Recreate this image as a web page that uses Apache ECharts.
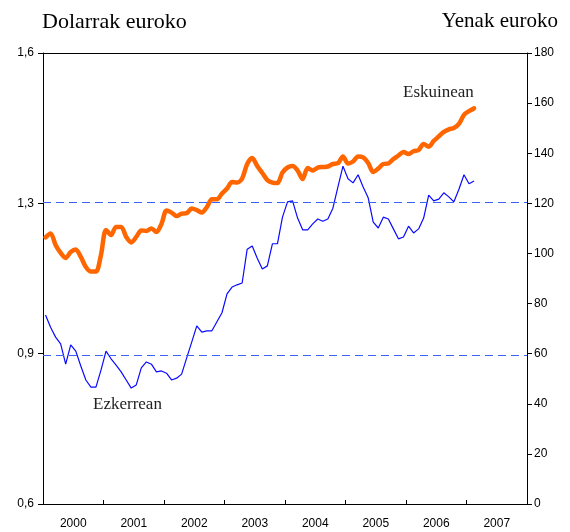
<!DOCTYPE html>
<html><head><meta charset="utf-8">
<script src="https://cdn.jsdelivr.net/npm/echarts@6/dist/echarts.min.js"></script>
<style>html,body{margin:0;padding:0;background:#fff}#c{width:570px;height:532px}</style>
</head><body><div id="c"></div>
<script>
// Year categories (tick labels on the x axis)
const years = ['2000','2001','2002','2003','2004','2005','2006','2007'];
// Dollars per euro, monthly from Jan 2000 (left axis)
const usdPerEuro = [1.019,0.992,0.970,0.955,0.910,0.953,0.939,0.906,0.875,0.859,0.859,0.897,
  0.939,0.922,0.908,0.893,0.875,0.857,0.864,0.902,0.915,0.910,0.893,0.895,
  0.890,0.875,0.879,0.888,0.924,0.959,0.995,0.981,0.984,0.984,1.004,1.024,
  1.066,1.081,1.086,1.090,1.165,1.172,1.145,1.121,1.128,1.177,1.177,1.236,
  1.270,1.272,1.234,1.208,1.208,1.221,1.232,1.227,1.232,1.256,1.303,1.349,
  1.321,1.312,1.330,1.303,1.279,1.225,1.212,1.236,1.232,1.210,1.188,1.192,
  1.216,1.201,1.210,1.234,1.285,1.272,1.276,1.290,1.281,1.270,1.298,1.330,
  1.310,1.316];
// Yen per euro, monthly from Jan 2000 (right axis)
const yenPerEuro = [106.4,108.0,103.4,100.2,98.2,100.6,101.6,98.6,94.6,92.8,92.8,99.4,
  109.4,107.4,110.6,110.6,106.6,104.4,106.6,109.2,109.0,110.0,108.6,111.8,
  117.1,116.3,114.9,115.9,116.1,117.9,117.3,116.3,118.5,121.6,121.6,123.9,
  125.9,128.5,128.3,129.9,135.7,138.1,134.9,132.1,129.3,128.3,128.1,132.3,
  134.3,134.9,133.1,129.7,134.1,133.1,134.3,134.5,134.7,135.7,136.0,138.7,
  135.9,136.7,138.7,138.3,136.1,132.5,133.9,135.7,135.9,137.7,139.1,140.5,
  139.7,140.8,141.3,143.7,142.6,144.9,146.7,148.5,149.5,150.1,151.7,155.3,
  156.8,157.9];
const leftRange = [0.6, 1.6];
const leftSteps = 3;
const rightRange = [0, 180];
const rightStep = 20;
const leftTitle = 'Dolarrak euroko';
const rightTitle = 'Yenak euroko';
const labelLeft = 'Ezkerrean';
const labelRight = 'Eskuinean';

const months = [];
years.forEach(y => { for (let m = 1; m <= 12; m++) months.push(y + '-' + (m < 10 ? '0' + m : m)); });
const leftInterval = (leftRange[1] - leftRange[0]) / leftSteps;
const gridLines = [];
for (let k = 1; k < leftSteps; k++) gridLines.push({yAxis: leftRange[0] + k * leftInterval});

const chart = echarts.init(document.getElementById('c'), null, {renderer: 'canvas'});
const sans = '"Liberation Sans", Arial, sans-serif';
const serif = '"Liberation Serif", "Times New Roman", serif';
const black = '#000';
chart.setOption({
  animation: false,
  backgroundColor: '#fff',
  title: [
    {text: leftTitle, left: 42, top: 11, padding: 0, textStyle: {fontFamily: serif, fontSize: 22, fontWeight: 'normal', color: black}},
    {text: rightTitle, right: 12, top: 11, padding: 0, textStyle: {fontFamily: serif, fontSize: 21, fontWeight: 'normal', color: black}}
  ],
  grid: {left: 43, right: 43, top: 53, bottom: 28, containLabel: false},
  xAxis: [
    {type: 'category', data: months, boundaryGap: true, position: 'bottom',
      axisLine: {show: true, lineStyle: {color: black, width: 1}},
      axisTick: {show: true, inside: true, length: 4, interval: (i) => i % 12 === 0, lineStyle: {color: black}},
      axisLabel: {show: false}, splitLine: {show: false}},
    {type: 'category', data: years, boundaryGap: true, position: 'bottom',
      axisLine: {show: false}, axisTick: {show: false}, splitLine: {show: false},
      axisLabel: {show: true, margin: 14, fontFamily: sans, fontSize: 12, color: black}},
    {type: 'category', data: years, position: 'top',
      axisLine: {show: true, lineStyle: {color: black, width: 1}}, axisTick: {show: false},
      axisLabel: {show: false}, splitLine: {show: false}}
  ],
  yAxis: [
    {type: 'value', min: leftRange[0], max: leftRange[1], interval: leftInterval, position: 'left',
      axisLine: {show: true, lineStyle: {color: black, width: 1}},
      axisTick: {show: true, length: 5, lineStyle: {color: black}},
      axisLabel: {margin: 9, fontFamily: sans, fontSize: 12, color: black,
        formatter: v => v.toFixed(1).replace('.', ',')},
      splitLine: {show: false}},
    {type: 'value', min: rightRange[0], max: rightRange[1], interval: rightStep, position: 'right',
      axisLine: {show: true, lineStyle: {color: black, width: 1}},
      axisTick: {show: true, length: 5, lineStyle: {color: black}},
      axisLabel: {margin: 7, fontFamily: sans, fontSize: 12, color: black},
      splitLine: {show: false}}
  ],
  series: [
    {type: 'line', name: labelLeft, xAxisIndex: 0, yAxisIndex: 0, data: usdPerEuro, showSymbol: false,
      lineStyle: {color: '#0a0aff', width: 1.2}, z: 3,
      markLine: {silent: true, symbol: 'none', label: {show: false}, emphasis: {disabled: true},
        lineStyle: {type: [8, 5], color: '#3b63f5', width: 1}, data: gridLines}},
    {type: 'line', name: labelRight, xAxisIndex: 0, yAxisIndex: 1, data: yenPerEuro, showSymbol: false, smooth: 0.3,
      lineStyle: {color: '#ff6600', width: 4.5, cap: 'round', join: 'round'}, z: 4}
  ],
  graphic: [
    {type: 'text', left: 403, top: 84, style: {text: labelRight, font: '17px ' + serif, fill: '#222'}},
    {type: 'text', left: 93, top: 396, style: {text: labelLeft, font: '17px ' + serif, fill: '#222'}}
  ]
});
</script>
</body></html>
